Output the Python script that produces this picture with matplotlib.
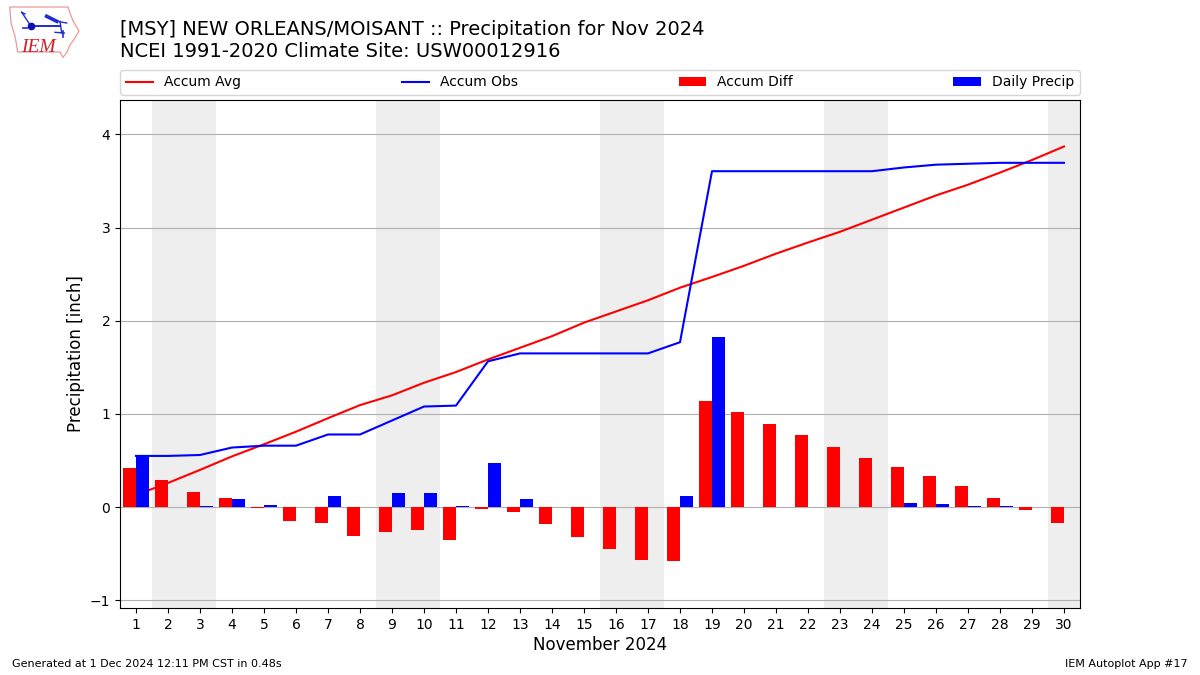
import matplotlib
matplotlib.use("Agg")
import matplotlib.pyplot as plt
from matplotlib.lines import Line2D
from matplotlib.patches import Polygon

days = list(range(1, 31))
accum_avg = [0.13, 0.26, 0.40, 0.545, 0.675, 0.81, 0.955, 1.095, 1.20, 1.335,
             1.45, 1.585, 1.71, 1.835, 1.98, 2.10, 2.22, 2.355, 2.47, 2.59,
             2.72, 2.84, 2.955, 3.085, 3.215, 3.345, 3.46, 3.59, 3.725, 3.87]
accum_obs = [0.55, 0.55, 0.56, 0.64, 0.66, 0.66, 0.78, 0.78, 0.93, 1.08,
             1.09, 1.565, 1.65, 1.65, 1.65, 1.65, 1.65, 1.77, 3.605, 3.605,
             3.605, 3.605, 3.605, 3.605, 3.645, 3.675, 3.685, 3.695, 3.695, 3.695]
accum_diff = [0.42, 0.29, 0.16, 0.10, -0.01, -0.15, -0.17, -0.31, -0.27, -0.25,
              -0.35, -0.02, -0.05, -0.18, -0.32, -0.45, -0.57, -0.58, 1.14, 1.02,
              0.89, 0.77, 0.65, 0.53, 0.43, 0.33, 0.225, 0.10, -0.03, -0.17]
daily_precip = [0.55, 0.0, 0.01, 0.085, 0.02, 0.0, 0.12, 0.0, 0.15, 0.15,
                0.01, 0.47, 0.085, 0.0, 0.0, 0.0, 0.0, 0.12, 1.83, 0.0,
                0.0, 0.0, 0.0, 0.0, 0.04, 0.03, 0.01, 0.01, 0.0, 0.0]
weekends = [(1.5, 3.5), (8.5, 10.5), (15.5, 17.5), (22.5, 24.5), (29.5, 30.5)]
bar_width = 0.4

fig = plt.figure(figsize=(12, 6.75), dpi=100)
ax = fig.add_axes([0.1, 0.0995, 0.8, 0.7525])

for start, end in weekends:
    ax.axvspan(start, end, facecolor="#eeeeee", edgecolor="none", zorder=0)
ax.grid(True, axis="y", color="#b0b0b0", linewidth=0.8, zorder=1)
ax.set_axisbelow(True)

ax.plot(days, accum_avg, color="red", linewidth=1.5, label="Accum Avg", zorder=2)
ax.plot(days, accum_obs, color="blue", linewidth=1.5, label="Accum Obs", zorder=2)
ax.bar([d - bar_width for d in days], accum_diff, width=bar_width, align="edge",
       color="red", label="Accum Diff", zorder=3)
ax.bar(days, daily_precip, width=bar_width, align="edge", color="blue",
       label="Daily Precip", zorder=3)

ax.set_xlim(0.5, 30.5)
ax.set_ylim(-1.080, 4.370)
ax.set_xticks(days)
ax.set_yticks([-1, 0, 1, 2, 3, 4])
ax.tick_params(labelsize=10)
ax.set_xlabel("November 2024", fontsize=12, labelpad=3)
ax.set_ylabel("Precipitation [inch]", fontsize=12, labelpad=3.4)
ax.legend(loc="lower left", bbox_to_anchor=(0, 1.0096, 1, 0.05), mode="expand",
          ncol=4, borderaxespad=0, fontsize=10)

fig.text(120 / 1200, 1 - 35 / 675, "[MSY] NEW ORLEANS/MOISANT :: Precipitation for Nov 2024",
         fontsize=14, va="baseline")
fig.text(120 / 1200, 1 - 57 / 675, "NCEI 1991-2020 Climate Site: USW00012916",
         fontsize=14, va="baseline")
fig.text(0.01, 0.0125, "Generated at 1 Dec 2024 12:11 PM CST in 0.48s", fontsize=8, va="baseline")
fig.text(0.99, 0.0125, "IEM Autoplot App #17", fontsize=8, ha="right", va="baseline")


def px(x, y):
    return (x / 1200, 1 - y / 675)


outline = [(9.7, 7), (68, 7), (70, 13), (73, 21), (79, 31), (75, 38), (70, 45),
           (67, 52), (63, 57.5), (60, 52), (17.7, 52), (15, 36), (11, 23)]
fig.add_artist(Polygon([px(*p) for p in outline], closed=True, fill=False,
                       edgecolor="#e89a9a", linewidth=0.9, transform=fig.transFigure))
fig.text(*px(21, 51.8), "IEM", family="Liberation Serif", style="italic",
         color="#d01f2a", fontsize=14, va="baseline")
strokes = [
    ([(30, 26.3), (60, 26.3)], 1.4), ([(56.7, 21.3), (66.7, 23)], 1.0),
    ([(46.7, 16.3), (56.7, 21.3)], 2.6), ([(60, 21.3), (61.7, 33)], 1.0),
    ([(55, 32.3), (64.3, 33)], 1.0), ([(63.3, 31.3), (63.3, 37.3)], 1.2),
    ([(21.7, 12.3), (30, 24.7)], 1.0), ([(21.7, 12.3), (25, 14)], 1.0),
    ([(23, 27.5), (27, 27.5)], 1.2),
]
for pts, lw in strokes:
    xs, ys = zip(*[px(*p) for p in pts])
    fig.add_artist(Line2D(xs, ys, color="#1f2bd0", linewidth=lw, transform=fig.transFigure))
fig.add_artist(Line2D(*[[v] for v in px(31, 26)], marker="o", markersize=4.5,
                      color="#1010b0", transform=fig.transFigure))

fig.savefig("out.png", dpi=100)
